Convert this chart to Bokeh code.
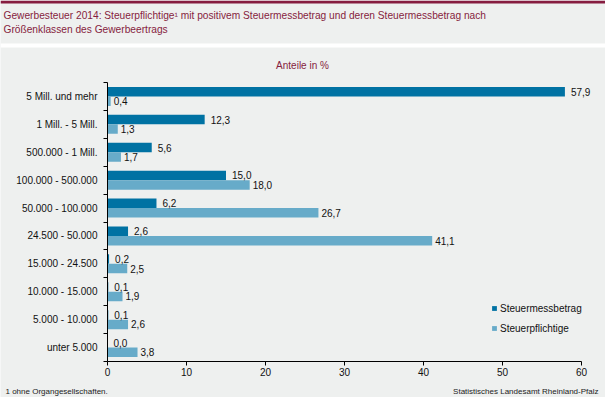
from bokeh.plotting import figure
from bokeh.models import (Range1d, FixedTicker, Legend, LegendItem, ColumnDataSource,
                          Label, BoxAnnotation)
from bokeh.core.properties import value
from bokeh.embed import file_html
from bokeh.resources import INLINE

categories = ["5 Mill. und mehr", "1 Mill. - 5 Mill.", "500.000 - 1 Mill.",
              "100.000 - 500.000", "50.000 - 100.000", "24.500 - 50.000",
              "15.000 - 24.500", "10.000 - 15.000", "5.000 - 10.000", "unter 5.000"]
steuermessbetrag = [57.9, 12.3, 5.6, 15.0, 6.2, 2.6, 0.2, 0.1, 0.1, 0.0]
steuerpflichtige = [0.4, 1.3, 1.7, 18.0, 26.7, 41.1, 2.5, 1.9, 2.6, 3.8]
x_ticks = [0, 10, 20, 30, 40, 50, 60]

FONT = "Liberation Sans"
BG = "#eef0ef"
DARK = "#0072a3"
LIGHT = "#67abc9"
RED = "#861d40"
TXT = "#111111"

W, H = 605, 397
# pixel box of the plotting area in the reference: left, right, top, bottom
PL, PR, PT, PB = 107, 581, 82, 361

def fmt(v):
    return f"{v:.1f}".replace(".", ",")

n = len(categories)
centers = [n - 0.5 - i for i in range(n)]
y_dark = [c + 0.17 for c in centers]
y_light = [c - 0.17 for c in centers]

# the frame covers the whole canvas; ranges chosen so that the data box maps to PL..PR, PB..PT
x0, x1 = x_ticks[0], x_ticks[-1]
kx = (PR - PL) / (x1 - x0)
ky = (PB - PT) / n
x_range = Range1d(x0 - PL / kx, x1 + (W - PR) / kx)
y_range = Range1d(0 - (H - PB) / ky, n + PT / ky)

p = figure(width=W, height=H, output_backend="svg", toolbar_location=None, title=None,
           x_range=x_range, y_range=y_range,
           min_border_left=0, min_border_right=0, min_border_top=0, min_border_bottom=0)
p.background_fill_color = BG
p.border_fill_color = BG
p.outline_line_color = None
p.xgrid.visible = False
p.ygrid.visible = False

src_d = ColumnDataSource(dict(y=y_dark, v=steuermessbetrag, t=[fmt(v) for v in steuermessbetrag]))
src_l = ColumnDataSource(dict(y=y_light, v=steuerpflichtige, t=[fmt(v) for v in steuerpflichtige]))

r1 = p.hbar(y="y", right="v", left=0, height=0.34, source=src_d, fill_color=DARK, line_color=None)
r2 = p.hbar(y="y", right="v", left=0, height=0.34, source=src_l, fill_color=LIGHT, line_color=None)

p.text(x="v", y="y", text="t", source=src_d, x_offset=6, text_baseline="middle",
       text_font_size="10px", text_font=value(FONT), text_color=TXT)
p.text(x="v", y="y", text="t", source=src_l, x_offset=3, text_baseline="middle",
       text_font_size="10px", text_font=value(FONT), text_color=TXT)

xa = p.xaxis[0]
xa.fixed_location = 0
xa.ticker = FixedTicker(ticks=x_ticks, minor_ticks=[])
xa.bounds = (x0, x1)
xa.major_tick_out = 4
xa.major_tick_in = 0
xa.axis_line_color = "black"
xa.major_tick_line_color = "black"
xa.major_label_text_font = FONT
xa.major_label_text_font_size = "10px"
xa.major_label_text_color = TXT
xa.major_label_standoff = 2

ya = p.yaxis[0]
ya.fixed_location = 0
ya.ticker = FixedTicker(ticks=centers, minor_ticks=list(range(n + 1)))
ya.bounds = (0, n)
ya.major_label_overrides = {c: lab for c, lab in zip(centers, categories)}
ya.major_tick_line_color = None
ya.major_tick_out = 0
ya.major_tick_in = 0
ya.minor_tick_out = 4
ya.minor_tick_in = 0
ya.minor_tick_line_color = "black"
ya.axis_line_color = "black"
ya.major_label_text_font = FONT
ya.major_label_text_font_size = "10px"
ya.major_label_text_color = TXT
ya.major_label_standoff = 6

legend = Legend(items=[LegendItem(label="Steuermessbetrag", renderers=[r1]),
                       LegendItem(label="Steuerpflichtige", renderers=[r2])],
                location=(491, H - 334), orientation="vertical",
                background_fill_alpha=0, border_line_color=None, padding=0, margin=0,
                glyph_width=6, glyph_height=6, label_standoff=3, spacing=8, label_height=12,
                label_text_font=FONT, label_text_font_size="10px", label_text_color=TXT)
p.add_layout(legend, "center")

def band(top, bottom, color):
    p.add_layout(BoxAnnotation(left=0, right=W, top=H - top, bottom=H - bottom,
                               left_units="screen", right_units="screen",
                               top_units="screen", bottom_units="screen",
                               fill_color=color, fill_alpha=1, line_color=None))

band(0, 3, RED)
band(43, 47, "white")

def lab(cx, cy, text, size, color, align="left"):
    p.add_layout(Label(x=cx, y=H - cy, x_units="screen", y_units="screen", text=text,
                       text_font=FONT, text_font_size=size, text_color=color,
                       text_align=align, text_baseline="middle"))

lab(3, 14.5, "Gewerbesteuer 2014: Steuerpflichtige\u00b9 mit positivem Steuermessbetrag und deren Steuermessbetrag nach", "10.2px", RED)
lab(3, 29, "Größenklassen des Gewerbeertrags", "10.2px", RED)
lab(302, 65, "Anteile in %", "10px", RED, "center")
lab(5, 391, "1 ohne Organgesellschaften.", "8px", "#222222")
lab(598, 391, "Statistisches Landesamt Rheinland-Pfalz", "8px", "#222222", "right")

open("out.html", "w").write(file_html(p, INLINE))
